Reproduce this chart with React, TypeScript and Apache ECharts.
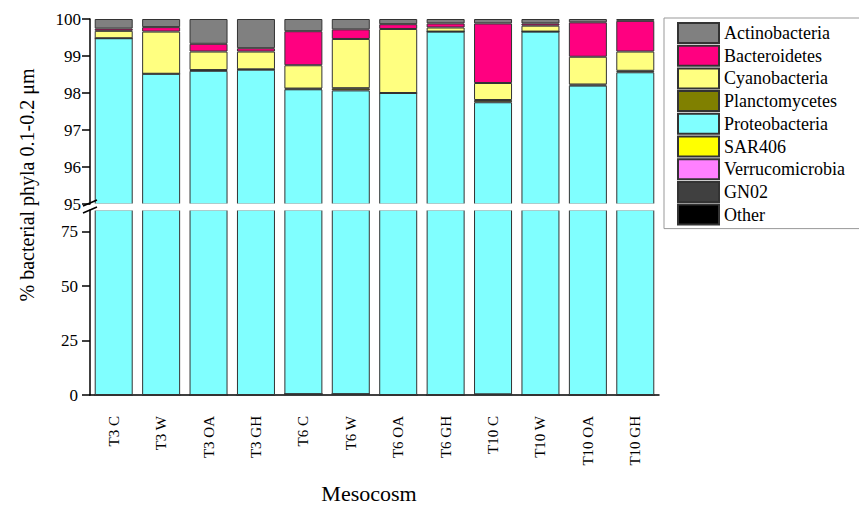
import React, { useEffect, useRef } from "react";
import * as echarts from "echarts";

// Mesocosm samples along the x axis
const mesocosms = [
  "T3 C", "T3 W", "T3 OA", "T3 GH",
  "T6 C", "T6 W", "T6 OA", "T6 GH",
  "T10 C", "T10 W", "T10 OA", "T10 GH",
];

// Relative abundance (%) of each phylum per mesocosm, 0.1-0.2 µm fraction
const other = [0, 0, 0, 0, 0.4, 0.4, 0, 0, 0.3, 0, 0, 0];
const gn02 = [0, 0, 0, 0, 0, 0, 0, 0, 0, 0, 0, 0];
const verrucomicrobia = [0, 0, 0, 0, 0, 0, 0, 0, 0, 0, 0, 0];
const sar406 = [0, 0, 0, 0, 0, 0, 0, 0, 0, 0, 0, 0];
const proteobacteria = [99.48, 98.52, 98.6, 98.63, 97.7, 97.67, 98.0, 99.66, 97.45, 99.66, 98.2, 98.56];
const planctomycetes = [0, 0, 0.02, 0.01, 0.02, 0.06, 0, 0, 0.06, 0, 0.03, 0.04];
const cyanobacteria = [0.2, 1.14, 0.5, 0.48, 0.63, 1.33, 1.73, 0.11, 0.46, 0.16, 0.75, 0.52];
const bacteroidetes = [0.06, 0.12, 0.21, 0.09, 0.92, 0.26, 0.13, 0.11, 1.61, 0.06, 0.93, 0.83];
const actinobacteria = [0.26, 0.22, 0.67, 0.79, 0.33, 0.28, 0.14, 0.12, 0.12, 0.12, 0.09, 0.05];

// Axis ticks for the two panels of the broken axis
const upperTicks = [95, 96, 97, 98, 99, 100];
const lowerTicks = [0, 25, 50, 75];

// Stack order, bottom to top
const phyla = [
  { name: "Other", color: "#000000", data: other },
  { name: "GN02", color: "#404040", data: gn02 },
  { name: "Verrucomicrobia", color: "#FF80FF", data: verrucomicrobia },
  { name: "SAR406", color: "#FFFF00", data: sar406 },
  { name: "Proteobacteria", color: "#80FFFF", data: proteobacteria },
  { name: "Planctomycetes", color: "#808000", data: planctomycetes },
  { name: "Cyanobacteria", color: "#FFFF80", data: cyanobacteria },
  { name: "Bacteroidetes", color: "#FF0080", data: bacteroidetes },
  { name: "Actinobacteria", color: "#808080", data: actinobacteria },
];

const FONT = "Liberation Serif";

export default function App() {
  const ref = useRef<HTMLDivElement>(null);

  useEffect(() => {
    if (!ref.current) return;
    const chart = echarts.init(ref.current, undefined, { renderer: "svg" });

    const left = 90;
    const right = 859 - 659;
    const upperTop = 19;
    const upperBottom = 204;
    const lowerTop = 210;
    const lowerBottom = 395;

    const series: any[] = [];
    [0, 1].forEach((gi) => {
      phyla.forEach((p) => {
        series.push({
          type: "bar",
          name: p.name,
          stack: "s" + gi,
          xAxisIndex: gi,
          yAxisIndex: gi,
          barWidth: 38,
          clip: true,
          data: p.data,
          itemStyle: { color: p.color, borderColor: "#333", borderWidth: 1 },
          emphasis: { disabled: true },
        });
      });
    });

    const yCommon = {
      type: "value",
      splitLine: { show: false },
      axisLine: { show: true, lineStyle: { color: "#000", width: 1.5 } },
      axisTick: { show: true, length: 8, lineStyle: { color: "#000", width: 1.5 } },
    };

    chart.setOption({
      animation: false,
      backgroundColor: "#fff",
      textStyle: { fontFamily: FONT },
      grid: [
        { left, right, top: upperTop, height: upperBottom - upperTop },
        { left, right, top: lowerTop, height: lowerBottom - lowerTop },
      ],
      xAxis: [
        { type: "category", gridIndex: 0, data: mesocosms, show: false },
        {
          type: "category",
          gridIndex: 1,
          data: mesocosms,
          axisLine: { lineStyle: { color: "#000", width: 1.5 } },
          axisTick: { alignWithLabel: true, length: 7, lineStyle: { color: "#000", width: 1.5 } },
          axisLabel: {
            rotate: 90,
            margin: 21,
            fontFamily: FONT,
            fontSize: 15,
            color: "#000",
            interval: 0,
          },
        },
      ],
      yAxis: [
        {
          ...yCommon,
          gridIndex: 0,
          min: 95,
          max: 100,
          interval: 1,
          axisLabel: { fontFamily: FONT, fontSize: 17, color: "#000", margin: 9, customValues: upperTicks },
          axisTick: { ...yCommon.axisTick, customValues: upperTicks },
        },
        {
          ...yCommon,
          gridIndex: 1,
          min: 0,
          max: 85,
          interval: 25,
          axisLabel: { fontFamily: FONT, fontSize: 17, color: "#000", margin: 12, customValues: lowerTicks },
          axisTick: { ...yCommon.axisTick, customValues: lowerTicks },
        },
      ],
      legend: {
        data: phyla.map((p) => p.name).reverse(),
        orient: "vertical",
        left: 664,
        top: 18,
        itemWidth: 41,
        itemHeight: 20,
        itemGap: 0.7,
        padding: [4, 60, 3, 13],
        borderColor: "#999",
        borderWidth: 1,
        icon: "rect",
        selectedMode: false,
        textStyle: { fontFamily: FONT, fontSize: 18, color: "#000" },
      },
      graphic: [
        // gap separating the two panels of the broken axis
        {
          type: "rect",
          z: 100,
          shape: { x: 91, y: upperBottom - 0.5, width: 570, height: lowerTop - upperBottom + 1 },
          style: { fill: "#fff" },
        },
        {
          type: "line",
          z: 101,
          shape: { x1: 83, y1: 206, x2: 97, y2: 200 },
          style: { stroke: "#000", lineWidth: 1.5 },
        },
        {
          type: "line",
          z: 101,
          shape: { x1: 83, y1: 213, x2: 97, y2: 207 },
          style: { stroke: "#000", lineWidth: 1.5 },
        },
        {
          type: "text",
          z: 101,
          x: 27,
          y: 185,
          rotation: Math.PI / 2,
          style: {
            text: "% bacterial phyla 0.1-0.2 μm",
            fontFamily: FONT,
            fontSize: 20,
            fill: "#000",
            align: "center",
            verticalAlign: "middle",
          },
        },
        {
          type: "text",
          z: 101,
          x: 369,
          y: 493,
          style: {
            text: "Mesocosm",
            fontFamily: FONT,
            fontSize: 22,
            fill: "#000",
            align: "center",
            verticalAlign: "middle",
          },
        },
      ],
      series,
    });

    return () => chart.dispose();
  }, []);

  return (
    <div
      ref={ref}
      style={{ position: "fixed", left: 0, top: 0, width: 859, height: 505 }}
    />
  );
}
